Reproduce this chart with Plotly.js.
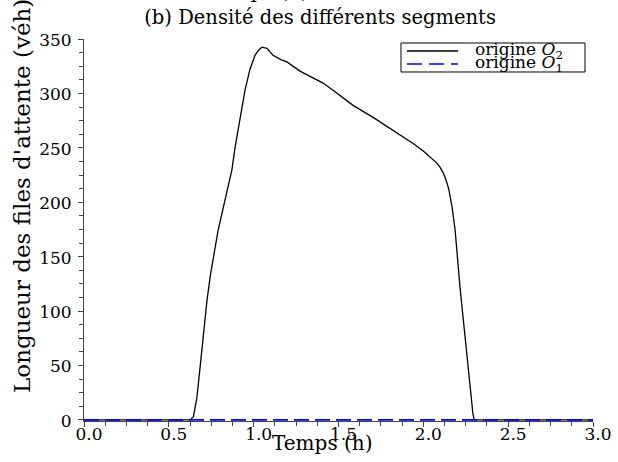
<!DOCTYPE html>
<html>
<head>
<meta charset="utf-8">
<script src="https://cdn.plot.ly/plotly-3.0.1.min.js"></script>
<style>html,body{margin:0;padding:0;background:#fff;}#chart{width:618px;height:462px;}</style>
</head>
<body>
<div id="chart"></div>
<script>
// Data
const timeO2 = [0.0, 0.5, 0.6, 0.625, 0.645, 0.665, 0.684, 0.705, 0.725, 0.745, 0.760, 0.790, 0.831, 0.872, 0.890, 0.919, 0.949, 0.978, 1.008, 1.030, 1.049, 1.078, 1.114, 1.160, 1.196, 1.273, 1.340, 1.409, 1.468, 1.586, 1.704, 1.822, 1.940, 2.000, 2.058, 2.080, 2.099, 2.117, 2.135, 2.150, 2.169, 2.187, 2.216, 2.246, 2.275, 2.292, 2.300, 2.5, 3.0];
const queueO2 = [0, 0, 0, 0, 3, 20, 48, 80, 110, 133, 147, 174, 202, 230, 250, 276, 303, 322, 335, 340, 342.5, 341.5, 335, 331, 329, 320.5, 315, 309.5, 303, 289, 278, 266, 254, 247, 239, 236, 232, 227, 220, 212, 196, 175, 122, 76, 30, 6, 0, 0, 0];
const timeO1 = [0.0, 3.0];
const queueO1 = [0, 0];
const xTickVals = [0, 0.5, 1, 1.5, 2, 2.5, 3];
const xTickText = ["0.0", "0.5", "1.0", "1.5", "2.0", "2.5", "3.0"];
const yTickVals = [0, 50, 100, 150, 200, 250, 300, 350];
const seriesNames = ["origine <i>O</i><sub>2</sub>", "origine <i>O</i><sub>1</sub>"];
const seriesColors = ['#000000', '#0000ff'];

const serif = "DejaVu Serif, Liberation Serif, serif";

const traces = [
  {x: timeO2, y: queueO2, type: 'scatter', mode: 'lines', name: seriesNames[0],
   line: {color: seriesColors[0], width: 1.3}},
  {x: timeO1, y: queueO1, type: 'scatter', mode: 'lines', name: seriesNames[1],
   line: {color: seriesColors[1], width: 1.8, dash: '15px,6px'}}
];

// pixel helpers for decorations (plot area: x 84..593, value 0 at y 420, 350 at y 39)
const px = v => (v - 84) / 509;
const PH = 381 * 351 / 350;         // plot height in pixels (range -1..350)
const py = v => (39 + PH - v) / PH;

const layout = {
  width: 618, height: 462,
  margin: {l: 84, r: 25, t: 39, b: 462 - 39 - PH},
  paper_bgcolor: '#ffffff', plot_bgcolor: '#ffffff',
  font: {family: serif, color: '#000000', size: 17},
  showlegend: false,
  title: {text: "(b) Densité des différents segments", x: 0.518, xref: 'container',
          y: 0.962, yref: 'container', yanchor: 'middle', xanchor: 'center',
          font: {family: serif, size: 19.5, color: '#000'}},
  xaxis: {range: [0, 3], tickvals: xTickVals, ticktext: xTickText, layer: 'below traces',
          showline: true, linecolor: '#444', linewidth: 1, zeroline: false, showgrid: false,
          ticks: 'outside', ticklen: 5, tickcolor: '#444', ticklabelshift: 5, ticklabelstandoff: -7,
          tickfont: {family: serif, size: 17},
          minor: {dtick: 0.125, ticks: 'outside', ticklen: 4, tickcolor: '#444', showgrid: false},
          fixedrange: true},
  yaxis: {range: [-1, 350], tickvals: yTickVals, layer: 'below traces',
          showline: true, linecolor: '#444', linewidth: 1, zeroline: false, showgrid: false,
          ticks: 'outside', ticklen: 5, tickcolor: '#444', ticklabelstandoff: 3, ticklabelshift: 1,
          tickfont: {family: serif, size: 17},
          minor: {dtick: 12.5, ticks: 'outside', ticklen: 4, tickcolor: '#444', showgrid: false},
          fixedrange: true},
  shapes: [
    {type: 'rect', xref: 'paper', yref: 'paper', x0: px(401), x1: px(585), y0: py(72), y1: py(43),
     line: {color: '#000', width: 1}, fillcolor: '#ffffff', layer: 'above'},
    {type: 'line', xref: 'paper', yref: 'paper', x0: px(407), x1: px(458), y0: py(51), y1: py(51),
     line: {color: seriesColors[0], width: 1.3}},
    {type: 'line', xref: 'paper', yref: 'paper', x0: px(407), x1: px(458), y0: py(64), y1: py(64),
     line: {color: seriesColors[1], width: 1.5, dash: '15px,7px'}}
  ],
  annotations: [
    {text: seriesNames[0], xref: 'paper', yref: 'paper', x: px(473), y: py(51),
     xanchor: 'left', yanchor: 'middle', showarrow: false,
     font: {family: serif, size: 17, color: '#000'}},
    {text: seriesNames[1], xref: 'paper', yref: 'paper', x: px(473), y: py(64),
     xanchor: 'left', yanchor: 'middle', showarrow: false,
     font: {family: serif, size: 17, color: '#000'}},
    {text: "Temps (h)", xref: 'paper', yref: 'paper', x: px(322), y: py(443),
     xanchor: 'center', yanchor: 'middle', showarrow: false,
     font: {family: serif, size: 20, color: '#000'}},
    {text: "Longueur des files d'attente (véh)", xref: 'paper', yref: 'paper',
     x: px(22), y: py(196), textangle: -90,
     xanchor: 'center', yanchor: 'middle', showarrow: false,
     font: {family: serif, size: 23, color: '#000'}},
    {text: "Temps (h)", xref: 'paper', yref: 'paper', x: px(258), y: py(5),
     xanchor: 'center', yanchor: 'bottom', showarrow: false,
     font: {family: serif, size: 20, color: '#000'}}
  ]
};

Plotly.newPlot('chart', traces, layout, {displayModeBar: false, staticPlot: true});
</script>
</body>
</html>
